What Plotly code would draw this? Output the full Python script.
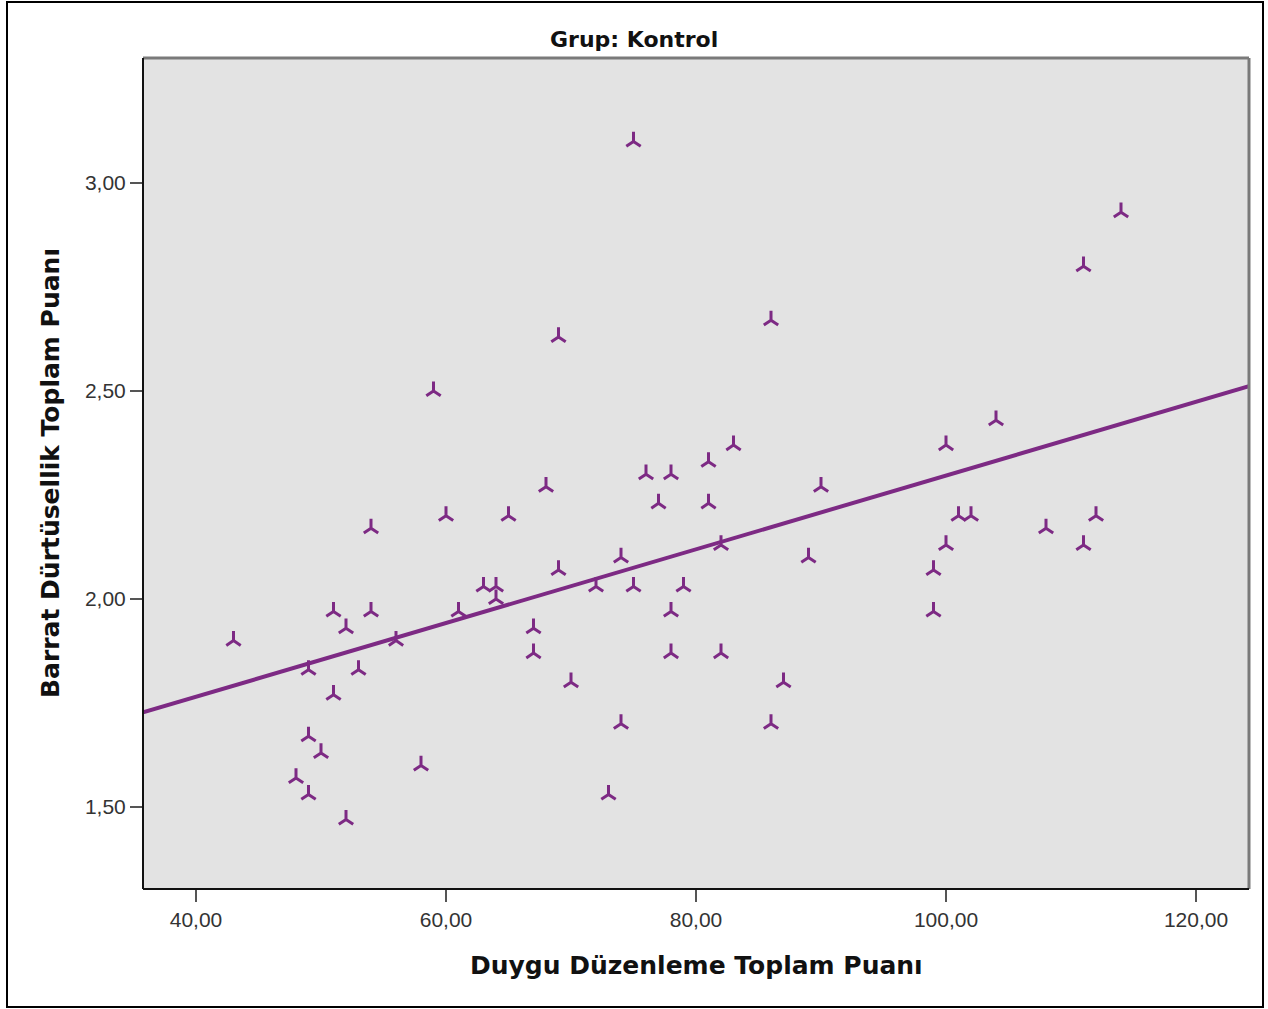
import numpy as np
import plotly.graph_objects as go

# Data (Grup: Kontrol)
duygu = [43, 48, 49, 49, 49, 50, 51, 51, 52, 52, 53, 54, 54, 56, 58, 59, 60, 61,
         63, 64, 64, 65, 67, 67, 68, 69, 69, 70, 72, 73, 74, 74, 75, 75, 76, 77,
         78, 78, 78, 79, 81, 81, 82, 82, 83, 86, 86, 87, 89, 90, 99, 99, 100, 100,
         101, 102, 104, 108, 111, 111, 112, 114]
barrat = [1.90, 1.57, 1.83, 1.67, 1.53, 1.63, 1.97, 1.77, 1.93, 1.47, 1.83, 2.17,
          1.97, 1.90, 1.60, 2.50, 2.20, 1.97, 2.03, 2.03, 2.00, 2.20, 1.93, 1.87,
          2.27, 2.63, 2.07, 1.80, 2.03, 1.53, 2.10, 1.70, 3.10, 2.03, 2.30, 2.23,
          2.30, 1.97, 1.87, 2.03, 2.33, 2.23, 2.13, 1.87, 2.37, 2.67, 1.70, 1.80,
          2.10, 2.27, 2.07, 1.97, 2.37, 2.13, 2.20, 2.20, 2.43, 2.17, 2.80, 2.13,
          2.20, 2.93]

x_tickvals = [40, 60, 80, 100, 120]
x_ticktext = ["40,00", "60,00", "80,00", "100,00", "120,00"]
y_tickvals = [1.5, 2.0, 2.5, 3.0]
y_ticktext = ["1,50", "2,00", "2,50", "3,00"]

x_range = [35.76, 124.24]
y_range = [1.3029, 3.3005]

purple = "#7d2a84"

# Linear fit (total)
slope, intercept = np.polyfit(duygu, barrat, 1)
fit_x = np.array(x_range)
fit_y = intercept + slope * fit_x

fig = go.Figure()
fig.add_trace(go.Scatter(
    x=fit_x, y=fit_y, mode="lines",
    line=dict(color=purple, width=4),
    hoverinfo="skip", showlegend=False,
))
fig.add_trace(go.Scatter(
    x=duygu, y=barrat, mode="markers",
    marker=dict(symbol="y-up", size=12, color=purple,
                line=dict(color=purple, width=3)),
    showlegend=False,
))

W, H = 1268, 1009
L, R, T, B = 143, 19, 58, 120
pw, ph = W - L - R, H - T - B

def px(xp):
    return (xp - L) / pw

def py(yp):
    return (H - B - yp) / ph

shapes = [
    # outer border
    dict(type="rect", xref="paper", yref="paper",
         x0=px(7), x1=px(1263), y0=py(1007), y1=py(2),
         line=dict(color="black", width=2), fillcolor="rgba(0,0,0,0)", layer="above"),
    # top and right frame (grey)
    dict(type="line", xref="paper", yref="paper", x0=0, x1=1, y0=1, y1=1,
         line=dict(color="#7a7a7a", width=3), layer="above"),
    dict(type="line", xref="paper", yref="paper", x0=1, x1=1, y0=0, y1=1,
         line=dict(color="#7a7a7a", width=3), layer="above"),
    # left and bottom frame (black)
    dict(type="line", xref="paper", yref="paper", x0=0, x1=0, y0=0, y1=1,
         line=dict(color="#111111", width=2), layer="above"),
    dict(type="line", xref="paper", yref="paper", x0=0, x1=1, y0=0, y1=0,
         line=dict(color="#111111", width=2), layer="above"),
]

title_font = "DejaVu Sans, Verdana, sans-serif"

fig.update_layout(
    width=W, height=H,
    margin=dict(l=L, r=R, t=T, b=B),
    paper_bgcolor="white",
    plot_bgcolor="#e3e3e3",
    font=dict(family="Liberation Sans, Arial, sans-serif", color="#222222"),
    shapes=shapes,
    annotations=[
        dict(text="<b>Grup: Kontrol</b>", xref="paper", yref="paper",
             x=px(634), y=py(39), xanchor="center", yanchor="middle",
             showarrow=False, font=dict(family=title_font, size=22, color="#111111")),
        dict(text="<b>Duygu Düzenleme Toplam Puanı</b>", xref="paper", yref="paper",
             x=px(696), y=py(965), xanchor="center", yanchor="middle",
             showarrow=False, font=dict(family=title_font, size=25, color="#111111")),
        dict(text="<b>Barrat Dürtüsellik Toplam Puanı</b>", xref="paper", yref="paper",
             x=px(51), y=py(473), xanchor="center", yanchor="middle", textangle=-90,
             showarrow=False, font=dict(family=title_font, size=25, color="#111111")),
    ],
    xaxis=dict(range=x_range, tickvals=x_tickvals, ticktext=x_ticktext,
               showgrid=False, zeroline=False, showline=False,
               ticks="outside", ticklen=12, tickwidth=2, tickcolor="#555555",
               tickfont=dict(size=21, color="#333333")),
    yaxis=dict(range=y_range, tickvals=y_tickvals, ticktext=y_ticktext,
               showgrid=False, zeroline=False, showline=False,
               ticks="outside", ticklen=12, tickwidth=2, tickcolor="#555555",
               tickfont=dict(size=21, color="#333333")),
)

fig.write_html("out.html", config={"displayModeBar": False},
               post_script="document.body.style.margin='0';document.body.style.overflow='hidden';")
